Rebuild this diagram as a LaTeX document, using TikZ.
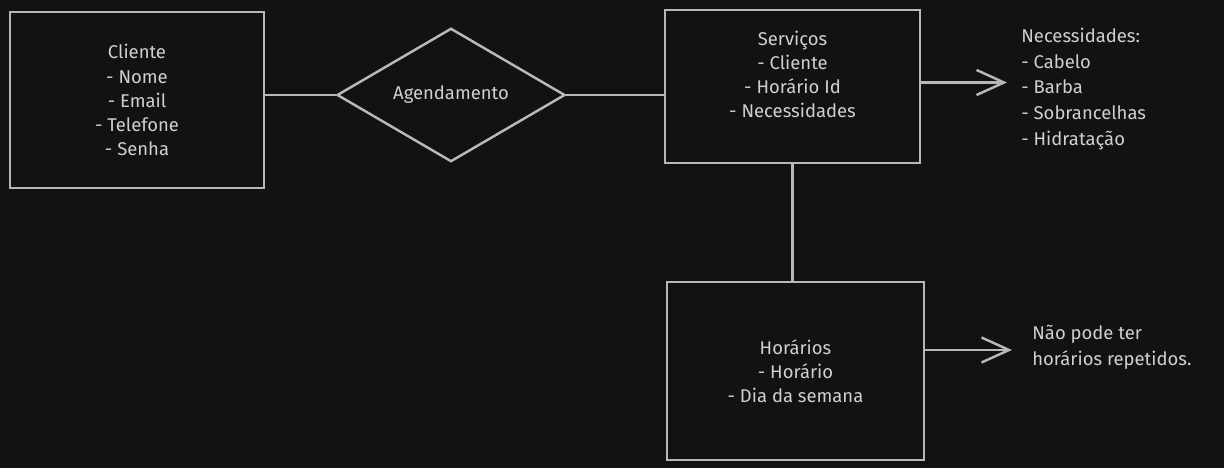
\documentclass[tikz,border=0pt]{standalone}
\usepackage{fontspec}
\setmainfont{Fira Sans}
\usepackage{xcolor}
\usetikzlibrary{arrows.meta,positioning,shapes.geometric}
\definecolor{bgdark}{HTML}{121212}
\definecolor{sketch}{HTML}{B5B8BD}
\definecolor{inktxt}{HTML}{CDD0D4}
\begin{document}
\begin{tikzpicture}[
    % GLOBAL CFG
    font=\fontsize{10.5}{13.7}\selectfont,
    >={Straight Barb[length=5.5mm,width=5mm]},
    % Styles
    entity/.style={% For the tables
        rectangle,
        draw=sketch,
        line width=1.4pt,
        text=inktxt,
        align=center,
        },
    relation/.style={% For the relation
        diamond,
        draw=sketch,
        line width=1.4pt,
        text=inktxt,
        inner sep=0pt,
        },
    note/.style={% For the free notes
        text=inktxt,
        align=left,
        anchor=north west,
        inner sep=0pt,
        },
    link/.style={% Plain connectors
        draw=sketch,
        line width=1.4pt,
        },
    ]

% Background and margins
\fill [bgdark] (0,0) rectangle (24.48,-9.36);
\useasboundingbox (0,0) rectangle (24.48,-9.36);

% Draw the tables
\node [entity, minimum width=5.08cm, minimum height=3.52cm] (cli) at (2.74,-2.0)
    {Cliente\\- Nome\\- Email\\- Telefone\\- Senha};
\node [entity, minimum width=5.1cm, minimum height=3.06cm] (serv) at (15.85,-1.73)
    {Serviços\\- Cliente\\- Horário Id\\- Necessidades\\[0pt]};
\node [entity, minimum width=5.14cm, minimum height=3.56cm] (hor) at (15.91,-7.42)
    {Horários\\- Horário\\- Dia da semana};

% Draw the relation
\node [relation, minimum width=4.56cm, minimum height=2.52cm] (agend) at (9.02,-1.9)
    {Agendamento};

% Draw the notes
\node [note, font=\fontsize{10.5}{14.7}\selectfont] (necnote) at (20.42,-0.55)
    {Necessidades:\\- Cabelo\\- Barba\\- Sobrancelhas\\- Hidratação};
\node [note, font=\fontsize{10.5}{14.7}\selectfont] (hornote) at (20.64,-6.5)
    {Não pode ter\\horários repetidos.};

% Ends of the arrows
\coordinate (necend) at (20.14,-1.65);
\coordinate (horend) at (20.24,-7.0);

% Connecting all
\draw [link] (agend.west -| cli.east) -- (agend.west);
\draw [link] (agend.east) -- (agend.east -| serv.west);
\draw [link] (serv.south) -- (serv.south |- hor.north);
\draw [link, ->] (serv.east |- necend) -- (necend);
\draw [link, ->] (hor.east |- horend) -- (horend);

\end{tikzpicture}
\end{document}
